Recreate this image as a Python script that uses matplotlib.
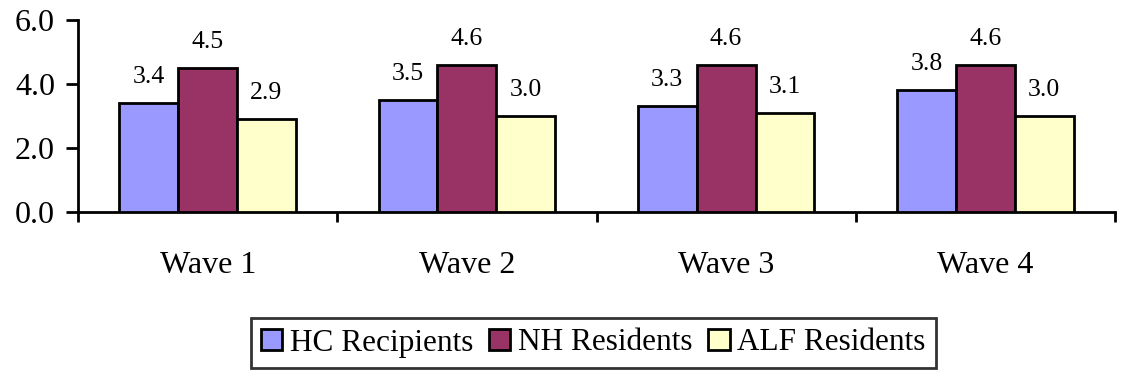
import matplotlib
matplotlib.use("Agg")
import matplotlib.pyplot as plt
from matplotlib.patches import Patch
import numpy as np

categories = ["Wave 1", "Wave 2", "Wave 3", "Wave 4"]
series_names = ["HC Recipients", "NH Residents", "ALF Residents"]
hc = [3.4, 3.5, 3.3, 3.8]
nh = [4.5, 4.6, 4.6, 4.6]
alf = [2.9, 3.0, 3.1, 3.0]
yticks = [0.0, 2.0, 4.0, 6.0]

colors = ["#9999FF", "#993366", "#FFFFCC"]
FAM = ['Liberation Serif', 'DejaVu Serif']
plt.rcParams['font.family'] = FAM

fig = plt.figure(figsize=(11.27, 3.82), dpi=100)
ax = fig.add_axes([78/1127, 1-212/382, (1115-78)/1127, (212-20)/382])

LW = 2.0
x = np.arange(len(categories))
w = 0.227
for i, (vals, c) in enumerate(zip([hc, nh, alf], colors)):
    pos = x + (i - 1) * w
    bars = ax.bar(pos, vals, width=w, color=c, edgecolor='black', linewidth=LW,
                  label=series_names[i], zorder=3)
    for b, v in zip(bars, vals):
        ax.annotate(f"{v:.1f}", (b.get_x() + b.get_width()/2, v), xytext=(0, 11),
                    textcoords='offset points', ha='center', va='bottom',
                    fontsize=18.5, family=FAM)

ax.set_xlim(-0.5, 3.5)
ax.set_ylim(0, 6)
ax.set_yticks(yticks)
ax.set_yticklabels([f"{t:.1f}" for t in yticks], fontsize=23, family=FAM)
ax.set_xticks(x)
ax.set_xticklabels(categories, fontsize=23, family=FAM)
ax.set_xticks(np.arange(-0.5, 4.0, 1.0), minor=True)
ax.tick_params(axis='x', which='major', length=0, pad=28)
ax.tick_params(axis='x', which='minor', length=7, width=LW, direction='out')
ax.tick_params(axis='y', length=8.5, width=LW, direction='out', pad=8)
for s in ['top', 'right']:
    ax.spines[s].set_visible(False)
for s in ['left', 'bottom']:
    ax.spines[s].set_linewidth(LW)

handles = [Patch(facecolor=c, edgecolor='black', linewidth=LW) for c in colors]
leg = fig.legend(handles, series_names, loc='center', bbox_to_anchor=(593.5/1127, 1-343/382),
                 ncol=3, prop={'family': FAM, 'size': 22.5}, frameon=True, fancybox=False,
                 handlelength=0.68, handleheight=0.68, handletextpad=0.25, columnspacing=0.5,
                 borderpad=0.34, borderaxespad=0)
leg.get_frame().set_edgecolor('black')
leg.get_frame().set_linewidth(LW)

fig.savefig("out.png", dpi=100)
